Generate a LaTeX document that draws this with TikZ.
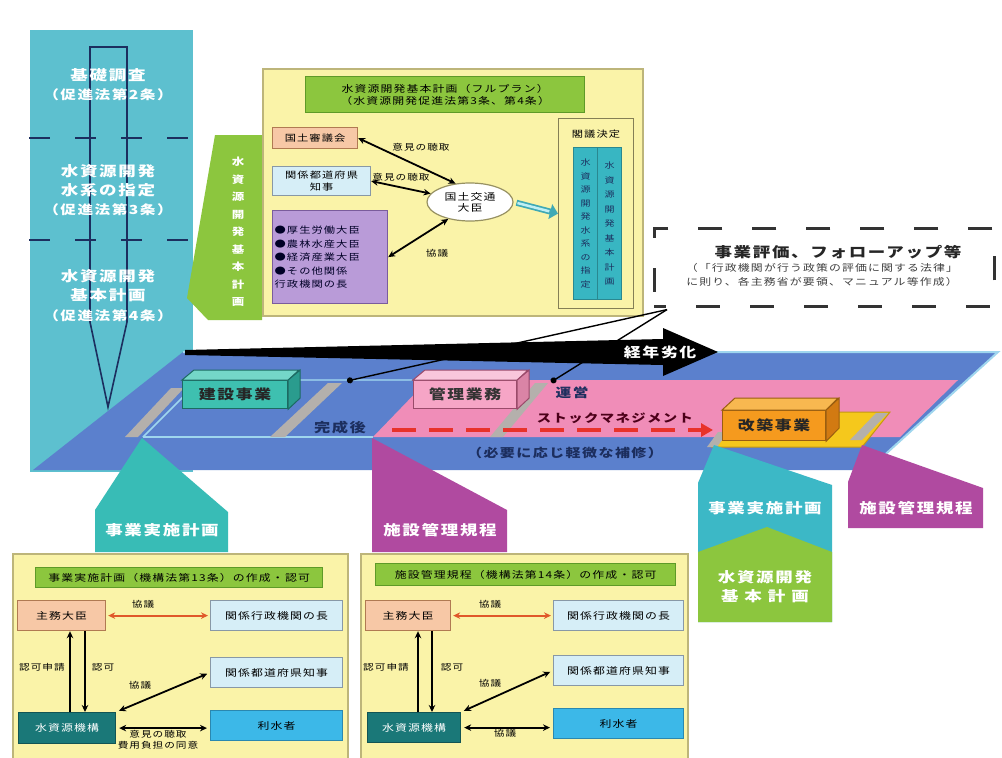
\documentclass[tikz,border=0pt]{standalone}
\usepackage{fontspec}
\setmainfont{Noto Sans CJK JP}[FakeStretch=1.25,LetterSpace=12]
\usetikzlibrary{arrows.meta,shapes.geometric}
\definecolor{cCol}{HTML}{5DC0CF}
\definecolor{cNavy}{HTML}{1C2E5E}
\definecolor{cGreen}{HTML}{8CC63E}
\definecolor{cGreenD}{HTML}{5E9A28}
\definecolor{cYel}{HTML}{FAF3A8}
\definecolor{cYelD}{HTML}{BDB57A}
\definecolor{cSalmon}{HTML}{F7C8A6}
\definecolor{cSalmonD}{HTML}{B07A52}
\definecolor{cLBlue}{HTML}{D6EEF7}
\definecolor{cLBlueD}{HTML}{8898A6}
\definecolor{cPurp}{HTML}{B99BD8}
\definecolor{cPurpD}{HTML}{7A5C9C}
\definecolor{cTcol}{HTML}{38B6C2}
\definecolor{cTcolD}{HTML}{2A8890}
\definecolor{cPlat}{HTML}{5B80CD}
\definecolor{cPlatL}{HTML}{9FD6EE}
\definecolor{cPink}{HTML}{F08DB8}
\definecolor{cGray}{HTML}{B4B0AC}
\definecolor{cTealF}{HTML}{3EC0B0}
\definecolor{cTealT}{HTML}{74D6C8}
\definecolor{cTealS}{HTML}{2A9C8E}
\definecolor{cTealD}{HTML}{1C6A62}
\definecolor{cPkF}{HTML}{F6A5C6}
\definecolor{cPkT}{HTML}{F9C6DB}
\definecolor{cPkS}{HTML}{DA84A6}
\definecolor{cPkD}{HTML}{9A4A6A}
\definecolor{cOrF}{HTML}{F59A1E}
\definecolor{cOrT}{HTML}{F8B850}
\definecolor{cOrS}{HTML}{D27A12}
\definecolor{cOrD}{HTML}{9A5E10}
\definecolor{cPlate}{HTML}{F5C81C}
\definecolor{cPlateD}{HTML}{C49812}
\definecolor{cTab}{HTML}{38BCB6}
\definecolor{cTabR}{HTML}{3CB8C6}
\definecolor{cMag}{HTML}{B04AA0}
\definecolor{cRed}{HTML}{E8322A}
\definecolor{cOrArr}{HTML}{E0582A}
\definecolor{cKiko}{HTML}{1A7878}
\definecolor{cRisui}{HTML}{3CB8E8}
\definecolor{cRisuiD}{HTML}{2A88B0}
\definecolor{cTArr}{HTML}{3FA9B5}
\definecolor{cTArrL}{HTML}{BFEFF4}
\begin{document}
\begin{tikzpicture}[x=1pt,y=-1pt,
  wt/.style={text=white,font=\bfseries\fontsize{14}{19}\selectfont,align=center,inner sep=0pt},
  wtp/.style={text=white,font=\bfseries\fontsize{12.5}{15}\selectfont,inner sep=0pt},
  sm/.style={font=\fontsize{8.5}{10}\selectfont,inner sep=0.5pt,align=center,text=black},
  lb/.style={font=\fontsize{8.5}{10.5}\selectfont,inner sep=0.5pt,align=center,text=black},
  bx/.style={draw,line width=1.2pt,anchor=north west,inner sep=0pt,align=center,font=\fontsize{9.5}{12}\selectfont},
  salbox/.style={bx,fill=cSalmon,draw=cSalmonD},
  lbbox/.style={bx,fill=cLBlue,draw=cLBlueD},
  ybox/.style={draw=cYelD,fill=cYel,line width=1.6pt,anchor=north west,inner sep=0pt},
  hdrbox/.style={bx,fill=cGreen,draw=cGreenD,font=\fontsize{9.5}{12}\selectfont},
  kikobox/.style={bx,fill=cKiko,draw=cKiko!70!black,text=white},
  risuibox/.style={bx,fill=cRisui,draw=cRisuiD},
  blk/.style={line width=1.8pt,{Stealth[length=7pt,width=6.5pt]}-{Stealth[length=7pt,width=6.5pt]}},
  blkone/.style={line width=1.8pt,-{Stealth[length=7pt,width=6.5pt]}},
  redarr/.style={line width=1.8pt,cOrArr,{Stealth[length=7pt,width=6.5pt]}-{Stealth[length=7pt,width=6.5pt]}},
  vt/.style={align=center,inner sep=0pt},
  bigt/.style={font=\bfseries\fontsize{14}{16}\selectfont,inner sep=0pt},
]
\useasboundingbox (0,0) rectangle (1002,758);
\clip (0,0) rectangle (1002,758);
\fill[white] (0,0) rectangle (1002,758);

% ---------- left column ----------
\fill[cCol] (30,30) rectangle (193,472);
\draw[cNavy,line width=1.6pt,line join=miter] (90,47) -- (127,47) -- (127,322) -- (108,407) -- (90,322) -- cycle;
\draw[cNavy,line width=2.2pt,dash pattern=on 21pt off 25pt] (29,138) -- (193,138);
\draw[cNavy,line width=2.2pt,dash pattern=on 21pt off 25pt] (29,240) -- (193,240);
\node[wt] (c1a) at (108,75) {基礎調査};
\node[wtp] (c1b) at (108,95) {（促進法第2条）};
\node[wt] (c2a) at (108,181) {水資源開発\\水系の指定};
\node[wtp] (c2b) at (108,210) {（促進法第3条）};
\node[wt] (c3a) at (108,286) {水資源開発\\基本計画};
\node[wtp] (c3b) at (108,316) {（促進法第4条）};

% ---------- green tab ----------
\fill[cGreen] (215,135) -- (262,135) -- (262,320) -- (208,320) -- (187,298) -- cycle;
\node[vt,text=white,font=\bfseries\fontsize{10}{17.5}\selectfont] (gtab) at (238,232) {水\\資\\源\\開\\発\\基\\本\\計\\画};

% ---------- top box (full plan) ----------
\node[ybox,minimum width=380,minimum height=247] (fp) at (262,68) {};
\node[hdrbox,minimum width=279,minimum height=36] (fphdr) at (305,76) {水資源開発基本計画（フルプラン）\\（水資源開発促進法第3条、第4条）};
\node[salbox,minimum width=85,minimum height=21,font=\fontsize{9}{11}\selectfont] (kokudo) at (272,127) {国土審議会};
\node[lbbox,minimum width=98,minimum height=29,font=\fontsize{9}{12}\selectfont] (tdfk0) at (272,166) {関係都道府県\\知事};
\node[bx,fill=cPurp,draw=cPurpD,text width=111pt,align=left,inner xsep=2pt,minimum height=93,font=\fontsize{9}{13.5}\selectfont,text=black!85!blue] (purp) at (272,210) {●厚生労働大臣\\●農林水産大臣\\●経済産業大臣\\●その他関係\\行政機関の長};
\node[ellipse,draw=cYelD!80!black,fill=white,line width=1.2pt,minimum width=86,minimum height=38,inner sep=0pt,align=center,font=\fontsize{9.5}{11}\selectfont] (mlit) at (470,202) {国土交通\\大臣};
\draw[blk] (kokudo.east) -- (mlit.128);
\draw[blk] (tdfk0.east) -- (mlit.168);
\draw[blk] (purp.east) -- (mlit.218);
\node[sm] (l1) at (421,147) {意見の聴取};
\node[sm] (l2) at (401,177) {意見の聴取};
\node[sm] (l3) at (437,253) {協議};
\node[bx,fill=cYel,draw=cYelD!70!black,minimum width=75,minimum height=190] (kakugi) at (558,118) {};
\node[inner sep=0pt,font=\fontsize{9}{11}\selectfont] (kakugiT) at (596,134) {閣議決定};
\node[bx,fill=cTcol,draw=cTcolD,minimum width=24,minimum height=152,font=\fontsize{8}{13.5}\selectfont,text=cNavy] (col1) at (573,147) {水\\資\\源\\開\\発\\水\\系\\の\\指\\定};
\node[bx,fill=cTcol,draw=cTcolD,minimum width=24,minimum height=152,font=\fontsize{8}{14.5}\selectfont,text=cNavy] (col2) at (597,147) {水\\資\\源\\開\\発\\基\\本\\計\\画};
\draw[cTArr,line width=6pt,-{Triangle[length=8pt,width=15pt]},shorten <=3pt,shorten >=0pt] (mlit.east) -- (kakugi.west);
\draw[cTArrL,line width=2.5pt,shorten <=4pt,shorten >=9pt] (mlit.east) -- (kakugi.west);

% ---------- evaluation dashed box ----------
\node[draw=black!80,line width=2.6pt,dash pattern=on 24pt off 30pt,dash phase=12pt,fill=white,anchor=north west,minimum width=340,minimum height=78,inner sep=0pt] (eval) at (653,227) {};
\node[bigt,text=black!85] (evt) at (838,252) {事業評価、フォローアップ等};
\node[inner sep=0pt,align=center,font=\fontsize{9.5}{14}\selectfont,text=black!75] (evs) at (822,275) {（「行政機関が行う政策の評価に関する法律」\\に則り、各主務省が要領、マニュアル等作成）};
\coordinate (ec) at ([xshift=14pt,yshift=-2pt]eval.south west);

% ---------- platform ----------
\fill[cPlat] (33,470) -- (183,352) -- (998,352) -- (868,470) -- cycle;
\draw[cPlatL,line width=2pt] (183,352) -- (998,352) -- (868,470);
\fill[cPink] (373,437) -- (428,380) -- (958,380) -- (900,437) -- cycle;
\draw[cPlatL,line width=1.5pt] (143,437) -- (373,437);
\draw[cPlatL,line width=1.5pt] (143,437) -- (196,384);
\draw[cPlatL!70!cPlat,line width=2pt] (300,380) -- (412,380);
% gray bars
\fill[cGray] (125,437) -- (138,437) -- (184,388) -- (171,388) -- cycle;
\fill[cGray] (270,437) -- (285,437) -- (342,383) -- (328,383) -- cycle;
\fill[cGray] (490,437) -- (503,437) -- (548,383) -- (535,383) -- cycle;
% construction box
\node[bx,fill=cTealF,draw=cTealD,minimum width=105,minimum height=28,font=\bfseries\fontsize{13.5}{15}\selectfont,text=black!85] (kensetsu) at (182,380) {建設事業};
\filldraw[fill=cTealT,draw=cTealD,line width=1pt] (kensetsu.north west) -- ++(12,-10) -- ++(105,0) -- (kensetsu.north east) -- cycle;
\filldraw[fill=cTealS,draw=cTealD,line width=1pt] (kensetsu.north east) -- ++(12,-10) -- ++(0,28) -- (kensetsu.south east) -- cycle;
% management box
\node[bx,fill=cPkF,draw=cPkD,minimum width=103,minimum height=28,font=\bfseries\fontsize{13.5}{15}\selectfont,text=black!80] (kanri) at (413,380) {管理業務};
\filldraw[fill=cPkT,draw=cPkD,line width=1pt] (kanri.north west) -- ++(12,-10) -- ++(103,0) -- (kanri.north east) -- cycle;
\filldraw[fill=cPkS,draw=cPkD,line width=1pt] (kanri.north east) -- ++(12,-10) -- ++(0,28) -- (kanri.south east) -- cycle;
% yellow plate and renovation box
\filldraw[fill=cPlate,draw=cPlateD,line width=1pt] (712,447) -- (745,412) -- (890,412) -- (862,447) -- cycle;
\fill[cGray] (707,447) -- (717,447) -- (728,432) -- (718,432) -- cycle;
\fill[cGray] (850,440) -- (862,440) -- (888,413) -- (876,413) -- cycle;
\node[bx,fill=cOrF,draw=cOrD,minimum width=103,minimum height=30,font=\bfseries\fontsize{13.5}{15}\selectfont,text=black!85] (kaichiku) at (722,410) {改築事業};
\filldraw[fill=cOrT,draw=cOrD,line width=1pt] (kaichiku.north west) -- ++(13,-12) -- ++(103,0) -- (kaichiku.north east) -- cycle;
\filldraw[fill=cOrS,draw=cOrD,line width=1pt] (kaichiku.north east) -- ++(13,-12) -- ++(0,30) -- (kaichiku.south east) -- cycle;
% texts on platform
\node[inner sep=0pt,font=\bfseries\fontsize{13}{15}\selectfont,text=cNavy] (kanseigo) at (340,428) {完成後};
\node[inner sep=0pt,font=\bfseries\fontsize{12.5}{15}\selectfont,text=cNavy] (unei) at (572,393) {運営};
\node[inner sep=0pt,font=\bfseries\fontsize{11.5}{14}\selectfont,text=black!60!purple] (stock) at (615,418) {ストックマネジメント};
\node[inner sep=0pt,font=\bfseries\fontsize{12}{14}\selectfont,text=cNavy] (hoshu) at (565,453) {（必要に応じ軽微な補修）};
\coordinate (sm1) at (392,430);
\coordinate (sm2) at (713,430);
\draw[cRed,line width=3.5pt,dash pattern=on 24pt off 13pt,-{Triangle[length=12pt,width=13pt]}] (sm1) -- (sm2);
% aging arrow
\fill[black] (185,350) -- (663,339) -- (663,328) -- (718,352) -- (663,376) -- (663,365) -- (185,355) -- cycle;
\node[inner sep=0pt,font=\bfseries\fontsize{13.5}{15}\selectfont,text=white] (aging) at (660,352) {経年劣化};
% lines from evaluation box
\coordinate (d1) at (347,381);
\coordinate (d2) at (551,382);
\draw[black,line width=1.4pt,-{Circle[length=6pt]}] (ec) -- (d1);
\draw[black,line width=1.4pt,-{Circle[length=6pt]}] (ec) -- (d2);

% ---------- tabs ----------
\fill[cTab] (95,552) -- (95,510) -- (142,438) -- (228,512) -- (228,552) -- cycle;
\node[wt] (tab1) at (162,530) {事業実施計画};
\fill[cMag] (372,552) -- (372,438) -- (507,510) -- (507,552) -- cycle;
\node[wt] (tab2) at (440,530) {施設管理規程};
\fill[cTabR] (698,622) -- (698,483) -- (714,445) -- (832,485) -- (832,622) -- cycle;
\fill[cGreen] (698,622) -- (698,552) -- (767,527) -- (832,552) -- (832,622) -- cycle;
\node[wt] (tab3) at (765,508) {事業実施計画};
\node[wt] (tab4a) at (765,577) {水資源開発};
\node[wt] (tab4b) at (765,596) {\makebox[88pt][s]{基\hfill 本\hfill 計\hfill 画}};
\fill[cMag] (848,528) -- (848,482) -- (862,445) -- (983,488) -- (983,528) -- cycle;
\node[wt] (tab5) at (916,508) {施設管理規程};

% ---------- bottom-left box ----------
\node[ybox,minimum width=335,minimum height=220] (bl) at (12,553) {};
\node[hdrbox,minimum width=287,minimum height=20] (blh) at (35,567) {事業実施計画（機構法第13条）の作成・認可};
\node[salbox,minimum width=88,minimum height=30] (shu1) at (17,600) {主務大臣};
\node[lbbox,minimum width=132,minimum height=30] (kg1) at (210,600) {関係行政機関の長};
\node[lbbox,minimum width=132,minimum height=30] (tdfk1) at (210,657) {関係都道府県知事};
\node[kikobox,minimum width=97,minimum height=31] (kiko1) at (18,712) {水資源機構};
\node[risuibox,minimum width=132,minimum height=30] (risui1) at (210,710) {利水者};
\draw[redarr,shorten <=2pt,shorten >=2pt] (shu1.east) -- (kg1.west);
\draw[blkone] ([xshift=52pt]kiko1.north west) -- ([xshift=52pt]kiko1.north west |- shu1.south);
\draw[blkone] ([xshift=67pt]kiko1.north west |- shu1.south) -- ([xshift=67pt]kiko1.north west);
\draw[blk,shorten <=3pt,shorten >=3pt] (kiko1.north east) -- (tdfk1.west);
\draw[blk,shorten <=3pt,shorten >=3pt] (kiko1.east) -- (kiko1.east -| risui1.west);
\node[sm] (bl1) at (143,604) {協議};
\node[lb] (bl2) at (42,667) {認可申請};
\node[lb] (bl3) at (103,667) {認可};
\node[sm] (bl4) at (140,685) {協議};
\node[lb] (bl5) at (158,740) {意見の聴取\\費用負担の同意};

% ---------- bottom-middle box ----------
\node[ybox,minimum width=327,minimum height=220] (bm) at (360,553) {};
\node[hdrbox,minimum width=300,minimum height=22] (bmh) at (375,563) {施設管理規程（機構法第14条）の作成・認可};
\node[salbox,minimum width=85,minimum height=30] (shu2) at (365,600) {主務大臣};
\node[lbbox,minimum width=130,minimum height=30] (kg2) at (553,600) {関係行政機関の長};
\node[lbbox,minimum width=130,minimum height=30] (tdfk2) at (553,655) {関係都道府県知事};
\node[kikobox,minimum width=93,minimum height=30] (kiko2) at (367,712) {水資源機構};
\node[risuibox,minimum width=130,minimum height=30] (risui2) at (553,708) {利水者};
\draw[redarr,shorten <=2pt,shorten >=2pt] (shu2.east) -- (kg2.west);
\draw[blkone] ([xshift=51pt]kiko2.north west) -- ([xshift=51pt]kiko2.north west |- shu2.south);
\draw[blkone] ([xshift=65pt]kiko2.north west |- shu2.south) -- ([xshift=65pt]kiko2.north west);
\draw[blk,shorten <=3pt,shorten >=3pt] (kiko2.north east) -- (tdfk2.west);
\draw[blk,shorten <=3pt,shorten >=3pt] (kiko2.east) -- (kiko2.east -| risui2.west);
\node[sm] (bm1) at (490,604) {協議};
\node[lb] (bm2) at (386,667) {認可申請};
\node[lb] (bm3) at (452,667) {認可};
\node[sm] (bm4) at (490,683) {協議};
\node[sm] (bm5) at (505,733) {協議};
\end{tikzpicture}
\end{document}
